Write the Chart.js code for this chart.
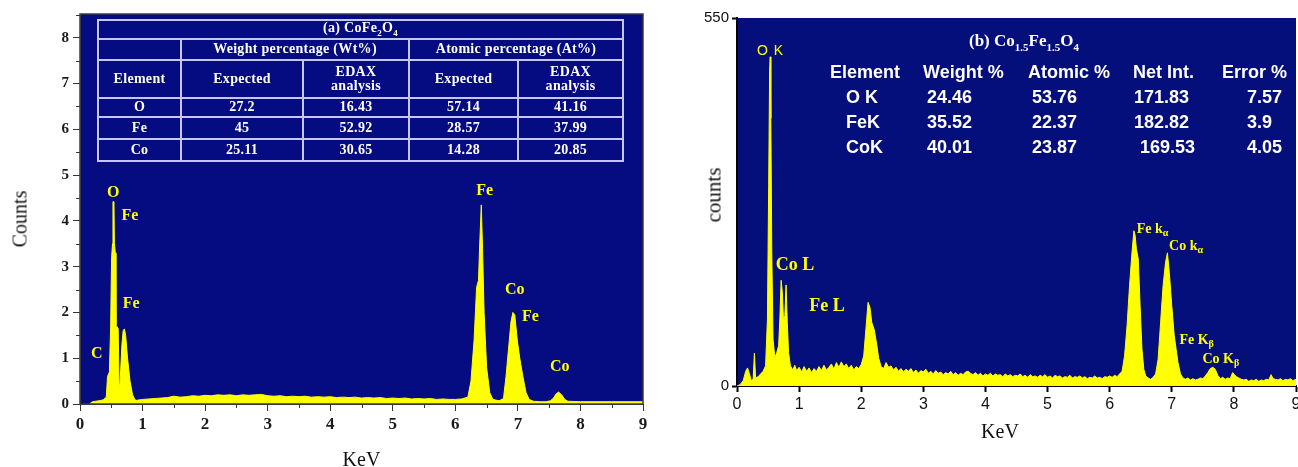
<!DOCTYPE html>
<html>
<head>
<meta charset="utf-8">
<script src="https://cdn.jsdelivr.net/npm/chart.js@4.4.0/dist/chart.umd.min.js"></script>
<style>
  body { margin: 0; background: #fff; width: 1298px; height: 467px; overflow: hidden; position: relative; }
  .wrap { position: absolute; top: 0; height: 467px; }
  #wrapA { left: 0; width: 660px; }
  #wrapB { left: 690px; width: 608px; }
  canvas { position: absolute; left: 0; top: 0; }
  .lbl { position: absolute; transform: translate(-50%, -50%); color: #ffff00; white-space: nowrap; line-height: 1; }
  .lblA { font: bold 16px 'Liberation Serif', serif; }
  .lblOK { font: 14px 'Liberation Sans', sans-serif; letter-spacing: 1px; }
  .lblBig { font: bold 18px 'Liberation Serif', serif; }
  .lblSm { font: bold 14px 'Liberation Serif', serif; }
  .lbl sub { font-size: 10px; vertical-align: -3px; }
  .ttl { position: absolute; transform: translate(-50%, -50%); font: 19px 'Liberation Serif', serif; color: #111; white-space: nowrap; }
  table.tA { position: absolute; left: 97px; top: 19px; width: 525px; border-collapse: collapse; color: #fff;
             font: bold 14px 'Liberation Serif', serif; text-align: center; letter-spacing: 0.3px; table-layout: fixed; }
  table.tA td { border: 2px solid #c6c6f0; padding: 0; line-height: 1.05; }
  table.tA sub { font-size: 9px; }
  .tB { position: absolute; color: #fff; font: bold 18px 'Liberation Sans', sans-serif; white-space: nowrap; transform: translateY(-50%); }
  .tBtitle { position: absolute; color: #fff; font: bold 17px 'Liberation Serif', serif; white-space: nowrap; transform: translate(-50%, -50%); }
  .tBtitle sub { font-size: 11px; }
</style>
</head>
<body>
<div class="wrap" id="wrapA"><canvas id="chartA" width="660" height="467"></canvas></div>
<div class="wrap" id="wrapB"><canvas id="chartB" width="608" height="467"></canvas></div>

<script>
// ---- (a) CoFe2O4 spectrum ----
const keVA = [
  0.15, 0.2, 0.25, 0.3, 0.37, 0.42, 0.44, 0.47, 0.49, 0.505,
  0.52, 0.527, 0.543, 0.55, 0.565, 0.575, 0.61, 0.625, 0.64, 0.67,
  0.69, 0.71, 0.73, 0.76, 0.8, 0.84, 0.88,
  0.9, 1.0, 1.1, 1.2, 1.3, 1.4, 1.5, 1.6, 1.7, 1.8,
  1.9, 2.0, 2.1, 2.2, 2.3, 2.4, 2.5, 2.6, 2.7, 2.8,
  2.9, 3.0, 3.1, 3.2, 3.3, 3.4, 3.5, 3.6, 3.7, 3.8,
  3.9, 4.0, 4.1, 4.2, 4.3, 4.4, 4.5, 4.6, 4.7, 4.8,
  4.9, 5.0, 5.1, 5.2, 5.3, 5.4, 5.5, 5.6, 5.7, 5.8,
  5.9, 6.0, 6.1, 6.2, 6.25, 6.3, 6.34, 6.37, 6.39, 6.415,
  6.435, 6.46, 6.5, 6.55, 6.6, 6.7, 6.77, 6.81, 6.85, 6.89,
  6.92, 6.95, 6.99, 7.03, 7.08, 7.13, 7.18, 7.25, 7.35, 7.45,
  7.52, 7.57, 7.61, 7.65, 7.7, 7.75, 7.8, 8.0, 8.5, 9.0
];
const countsA = [
  0, 0.05, 0.06, 0.07, 0.09, 0.15, 0.6, 0.7, 1.7, 3.2,
  3.5, 4.42, 4.42, 3.5, 3.3, 1.72, 1.65, 0.4, 0.45, 1.3,
  1.6, 1.64, 1.5, 1.0, 0.5, 0.2, 0.09,
  0.08, 0.1, 0.11, 0.12, 0.13, 0.14, 0.17, 0.15, 0.16, 0.18,
  0.17, 0.19, 0.18, 0.2, 0.19, 0.2, 0.18, 0.2, 0.19, 0.2,
  0.21, 0.18, 0.17, 0.18, 0.16, 0.17, 0.16, 0.17, 0.15, 0.16,
  0.15, 0.16, 0.14, 0.15, 0.14, 0.15, 0.13, 0.14, 0.13, 0.14,
  0.12, 0.13, 0.12, 0.13, 0.11, 0.12, 0.11, 0.12, 0.1, 0.11,
  0.1, 0.1, 0.11, 0.15, 0.5, 1.4, 2.55, 2.7, 3.5, 4.35,
  3.4, 2.0, 0.8, 0.25, 0.1, 0.07, 0.12, 0.6, 1.2, 1.8,
  2.0, 1.95, 1.4, 1.0, 0.6, 0.25, 0.1, 0.06, 0.05, 0.05,
  0.07, 0.13, 0.22, 0.26, 0.2, 0.1, 0.06, 0.05, 0.05, 0.05
];
const ticksA = [0, 1, 2, 3, 4, 5, 6, 7, 8];
const peakTextA = ['O', 'Fe', 'Fe', 'C', 'Fe', 'Co', 'Fe', 'Co'];
const peakKeVA = [0.53, 0.80, 0.82, 0.27, 6.47, 6.95, 7.20, 7.67];
const peakCountA = [4.64, 4.12, 2.21, 1.12, 4.68, 2.51, 1.93, 0.82];

const tableTitleA = '(a) CoFe<sub>2</sub>O<sub>4</sub>';
const elementsA = ['O', 'Fe', 'Co'];
const wtExpectedA = ['27.2', '45', '25.11'];
const wtEdaxA = ['16.43', '52.92', '30.65'];
const atExpectedA = ['57.14', '28.57', '14.28'];
const atEdaxA = ['41.16', '37.99', '20.85'];

// ---- (b) Co1.5Fe1.5O4 spectrum ----
const keVB = [
  0.00, 0.05, 0.10, 0.14, 0.17, 0.20, 0.23, 0.26, 0.28, 0.30,
  0.34, 0.38, 0.42, 0.46, 0.49, 0.51, 0.525, 0.535, 0.545, 0.56,
  0.58, 0.61, 0.64, 0.67, 0.69, 0.71, 0.73, 0.75, 0.77, 0.79,
  0.81, 0.83, 0.86, 0.90, 0.93, 0.96, 1.00, 1.04, 1.08, 1.12,
  1.16, 1.20, 1.24, 1.28, 1.32, 1.36, 1.40, 1.44, 1.48, 1.52,
  1.56, 1.60, 1.64, 1.68, 1.72, 1.76, 1.80, 1.84, 1.88, 1.92,
  1.96, 2.00, 2.04, 2.08, 2.11, 2.14, 2.17, 2.21, 2.25, 2.28,
  2.32, 2.36, 2.40, 2.44, 2.48, 2.52, 2.56, 2.60, 2.64, 2.68,
  2.72, 2.76, 2.80, 2.84, 2.88, 2.92, 2.96, 3.00, 3.04, 3.08,
  3.12, 3.16, 3.20, 3.24, 3.28, 3.32, 3.36, 3.40, 3.44, 3.48,
  3.52, 3.56, 3.60, 3.64, 3.68, 3.72, 3.76, 3.80, 3.84, 3.88,
  3.92, 3.96, 4.00, 4.04, 4.08, 4.12, 4.16, 4.20, 4.24, 4.28,
  4.32, 4.36, 4.40, 4.44, 4.48, 4.52, 4.56, 4.60, 4.64, 4.68,
  4.72, 4.76, 4.80, 4.84, 4.88, 4.92, 4.96, 5.00, 5.04, 5.08,
  5.12, 5.16, 5.20, 5.24, 5.28, 5.32, 5.36, 5.40, 5.44, 5.48,
  5.52, 5.56, 5.60, 5.64, 5.68, 5.72, 5.76, 5.80, 5.84, 5.88,
  5.92, 5.96, 6.00, 6.04, 6.08, 6.12, 6.16, 6.20, 6.24, 6.28,
  6.32, 6.36, 6.39, 6.41, 6.43, 6.46, 6.49, 6.52, 6.55, 6.58,
  6.62, 6.66, 6.70, 6.74, 6.78, 6.82, 6.86, 6.90, 6.93, 6.96,
  7.00, 7.04, 7.07, 7.10, 7.14, 7.18, 7.22, 7.26, 7.30, 7.34,
  7.38, 7.42, 7.46, 7.50, 7.54, 7.58, 7.62, 7.66, 7.70, 7.74,
  7.78, 7.82, 7.86, 7.90, 7.94, 7.98, 8.01, 8.04, 8.08, 8.12,
  8.16, 8.20, 8.24, 8.28, 8.32, 8.36, 8.40, 8.44, 8.48, 8.52,
  8.56, 8.60, 8.63, 8.67, 8.71, 8.75, 8.79, 8.83, 8.87, 8.91,
  8.95, 9.00
];
const countsB = [
  0, 2, 8, 22, 27, 18, 8, 10, 49, 12,
  14, 18, 22, 30, 100, 300, 470, 492, 400, 200,
  70, 42, 50, 60, 100, 158, 140, 95, 105, 151,
  95, 50, 30, 24, 31, 23, 28, 21, 29, 22,
  27, 20, 26, 22, 29, 23, 31, 24, 28, 33,
  25, 35, 28, 36, 29, 33, 26, 31, 24, 29,
  26, 32, 45, 90, 125, 118, 95, 84, 62, 42,
  29, 26, 35, 28, 30, 24, 28, 22, 26, 21,
  25, 22, 26, 20, 24, 19, 23, 21, 25, 19,
  22, 18, 23, 19, 21, 17, 20, 18, 22, 17,
  20, 16, 19, 17, 21, 22, 19, 17, 20, 16,
  19, 15, 18, 16, 19, 15, 18, 16, 17, 14,
  18, 15, 17, 14, 16, 15, 18, 14, 16, 13,
  17, 14, 15, 13, 16, 14, 17, 13, 15, 12,
  16, 14, 15, 12, 14, 13, 16, 12, 14, 13,
  15, 12, 14, 11, 13, 12, 15, 12, 13, 11,
  14, 13, 15, 13, 16, 14, 18, 22, 45, 90,
  150, 200, 232, 225, 205, 190, 120, 55, 25, 15,
  12, 10, 13, 18, 40, 95, 150, 185, 199, 170,
  120, 75, 55, 35, 18, 12, 10, 12, 9, 11,
  9, 10, 12, 11, 15, 20, 26, 28, 25, 16,
  11, 13, 10, 12, 11, 20, 17, 14, 12, 10,
  9, 10, 7, 9, 8, 10, 7, 9, 8, 10,
  9, 17, 11, 10, 9, 11, 8, 10, 9, 11,
  8, 10
];
const ticksB = [0, 550];
const peakTextB = ['O K', 'Co L', 'Fe L', 'Fe k<sub>α</sub>', 'Co k<sub>α</sub>', 'Fe K<sub>β</sub>', 'Co K<sub>β</sub>'];
const peakKeVB = [0.54, 0.935, 1.45, 6.69, 7.23, 7.40, 7.79];
const peakCountB = [502, 183, 121, 235, 209, 69, 40];
const peakStyleB = ['lblOK', 'lblBig', 'lblBig', 'lblSm', 'lblSm', 'lblSm', 'lblSm'];

const tableTitleB = '(b) Co<sub>1.5</sub>Fe<sub>1.5</sub>O<sub>4</sub>';
const headersB = ['Element', 'Weight %', 'Atomic %', 'Net Int.', 'Error %'];
const elementsB = ['O K', 'FeK', 'CoK'];
const weightB = ['24.46', '35.52', '40.01'];
const atomicB = ['53.76', '22.37', '23.87'];
const netIntB = ['171.83', '182.82', '169.53'];
const errorB = ['7.57', '3.9', '4.05'];

// plot background, frame and minor ticks
const plotDeco = {
  id: 'plotDeco',
  beforeDraw(chart, args, opts) {
    const { ctx, chartArea: a } = chart;
    ctx.save();
    ctx.fillStyle = opts.bg;
    ctx.fillRect(a.left, a.top, a.right - a.left, a.bottom - a.top);
    ctx.restore();
  },
  afterDraw(chart, args, opts) {
    const { ctx, chartArea: a, scales } = chart;
    ctx.save();
    if (opts.frame) {
      ctx.strokeStyle = opts.frame;
      ctx.lineWidth = 1.5;
      ctx.strokeRect(a.left, a.top, a.right - a.left, a.bottom - a.top);
    }
    if (opts.minor) {
      ctx.strokeStyle = opts.tickColor;
      ctx.lineWidth = 1;
      ctx.beginPath();
      for (let v = 0.5; v < scales.x.max; v += 1) {
        const px = Math.round(scales.x.getPixelForValue(v)) + 0.5;
        ctx.moveTo(px, a.bottom); ctx.lineTo(px, a.bottom + 4);
      }
      for (let v = 0.5; v < scales.y.max; v += 1) {
        const py = Math.round(scales.y.getPixelForValue(v)) + 0.5;
        ctx.moveTo(a.left, py); ctx.lineTo(a.left - 4, py);
      }
      ctx.stroke();
    }
    ctx.restore();
  }
};

function toPoints(xs, ys) {
  return xs.map((x, i) => ({ x: x, y: ys[i] }));
}

function placeLabels(chart, wrap, texts, xs, ys, classes) {
  texts.forEach((t, i) => {
    const d = document.createElement('div');
    d.className = 'lbl ' + classes[i];
    d.innerHTML = t;
    d.style.left = chart.scales.x.getPixelForValue(xs[i]) + 'px';
    d.style.top = chart.scales.y.getPixelForValue(ys[i]) + 'px';
    wrap.appendChild(d);
  });
}

function addTitle(wrap, text, x, y, rotate, size) {
  const d = document.createElement('div');
  d.className = 'ttl';
  d.textContent = text;
  d.style.left = x + 'px';
  d.style.top = y + 'px';
  if (size) d.style.fontSize = size + 'px';
  if (rotate) d.style.transform = 'translate(-50%,-50%) rotate(-90deg)';
  wrap.appendChild(d);
}

// ---------- chart (a) ----------
const chartA = new Chart(document.getElementById('chartA'), {
  type: 'line',
  data: {
    datasets: [{
      data: toPoints(keVA, countsA),
      borderColor: '#ffff00',
      backgroundColor: '#ffff00',
      borderWidth: 1,
      fill: 'origin',
      pointRadius: 0,
      tension: 0
    }]
  },
  options: {
    responsive: false,
    animation: false,
    events: [],
    layout: { padding: { top: 14, right: 17, left: 0, bottom: 0 } },
    plugins: {
      legend: { display: false },
      tooltip: { enabled: false },
      plotDeco: { bg: '#050b80', frame: '#3a3a4a', minor: true, tickColor: '#333' }
    },
    scales: {
      x: {
        type: 'linear', min: 0, max: 9,
        ticks: { stepSize: 1, color: '#1a1a1a', font: { family: 'Liberation Serif', size: 17, weight: 'bold' }, padding: 3, maxRotation: 0 },
        grid: { drawOnChartArea: false, tickLength: 7, tickColor: '#333' },
        border: { color: '#333', width: 1 },
        afterFit: s => { s.height = 63; s.paddingRight = 0; s.paddingLeft = 0; }
      },
      y: {
        type: 'linear', min: 0, max: 8.52,
        afterBuildTicks: s => { s.ticks = ticksA.map(v => ({ value: v })); },
        ticks: { color: '#1a1a1a', font: { family: 'Liberation Serif', size: 15, weight: 'bold' }, padding: 4 },
        grid: { drawOnChartArea: false, tickLength: 7, tickColor: '#333' },
        border: { color: '#333', width: 1 },
        afterFit: s => { s.width = 80; }
      }
    }
  },
  plugins: [plotDeco]
});

const wrapA = document.getElementById('wrapA');
placeLabels(chartA, wrapA, peakTextA, peakKeVA, peakCountA, peakTextA.map(() => 'lblA'));
addTitle(wrapA, 'KeV', (chartA.chartArea.left + chartA.chartArea.right) / 2, 459, false, 20);
addTitle(wrapA, 'Counts', 20, 219, true, 20);

// table (a)
let rowsA = '';
elementsA.forEach((el, i) => {
  rowsA += '<tr style="height:' + (i === 0 ? 19 : 22) + 'px"><td>' + el + '</td><td>' + wtExpectedA[i] + '</td><td>' +
    wtEdaxA[i] + '</td><td>' + atExpectedA[i] + '</td><td>' + atEdaxA[i] + '</td></tr>';
});
wrapA.insertAdjacentHTML('beforeend',
  '<table class="tA"><colgroup><col style="width:83px"><col style="width:122px"><col style="width:106px"><col style="width:109px"><col style="width:105px"></colgroup>' +
  '<tr style="height:19px"><td colspan="5">' + tableTitleA + '</td></tr>' +
  '<tr style="height:21px"><td></td><td colspan="2">Weight percentage (Wt%)</td><td colspan="2">Atomic percentage (At%)</td></tr>' +
  '<tr style="height:38px"><td>Element</td><td>Expected</td><td>EDAX<br>analysis</td><td>Expected</td><td>EDAX<br>analysis</td></tr>' +
  rowsA + '</table>');

// ---------- chart (b) ----------
const chartB = new Chart(document.getElementById('chartB'), {
  type: 'line',
  data: {
    datasets: [{
      data: toPoints(keVB, countsB),
      borderColor: '#ffff00',
      backgroundColor: '#ffff00',
      borderWidth: 1,
      fill: 'origin',
      pointRadius: 0,
      tension: 0
    }]
  },
  options: {
    responsive: false,
    animation: false,
    events: [],
    layout: { padding: { top: 18, right: 2, left: 0, bottom: 26 } },
    plugins: {
      legend: { display: false },
      tooltip: { enabled: false },
      plotDeco: { bg: '#040f7c', minor: false }
    },
    scales: {
      x: {
        type: 'linear', min: 0, max: 9,
        ticks: { stepSize: 1, color: '#111', font: { family: 'Liberation Sans', size: 16 }, padding: 3, maxRotation: 0 },
        grid: { drawOnChartArea: false, tickLength: 6, tickColor: '#000', tickWidth: 2 },
        border: { color: '#000', width: 2 },
        afterFit: s => { s.height = 55; s.paddingRight = 0; s.paddingLeft = 0; }
      },
      y: {
        type: 'linear', min: 0, max: 550,
        afterBuildTicks: s => { s.ticks = ticksB.map(v => ({ value: v })); },
        ticks: { color: '#111', font: { family: 'Liberation Sans', size: 15 }, padding: 3 },
        grid: { drawOnChartArea: false, tickLength: 5, tickColor: '#000', tickWidth: 2 },
        border: { color: '#000', width: 2 },
        afterFit: s => { s.width = 47; }
      }
    }
  },
  plugins: [plotDeco]
});

const wrapB = document.getElementById('wrapB');
placeLabels(chartB, wrapB, peakTextB, peakKeVB, peakCountB, peakStyleB);
addTitle(wrapB, 'KeV', 310, 431, false, 20);
addTitle(wrapB, 'counts', 24, 195, true, 21);

// table (b) as text block
wrapB.insertAdjacentHTML('beforeend', '<div class="tBtitle" style="left:334px;top:42px">' + tableTitleB + '</div>');
const headX = [140, 233, 338, 443, 532];
const bodyX = [156, 237, 342, 444, 557];
headersB.forEach((h, j) => {
  wrapB.insertAdjacentHTML('beforeend', '<div class="tB" style="left:' + headX[j] + 'px;top:72px">' + h + '</div>');
});
const colsB = [elementsB, weightB, atomicB, netIntB, errorB];
elementsB.forEach((el, i) => {
  colsB.forEach((col, j) => {
    let x = bodyX[j];
    if (j === 3 && i === 2) x += 6;
    wrapB.insertAdjacentHTML('beforeend', '<div class="tB" style="left:' + x + 'px;top:' + (97 + i * 25) + 'px">' + col[i] + '</div>');
  });
});
</script>
</body>
</html>
